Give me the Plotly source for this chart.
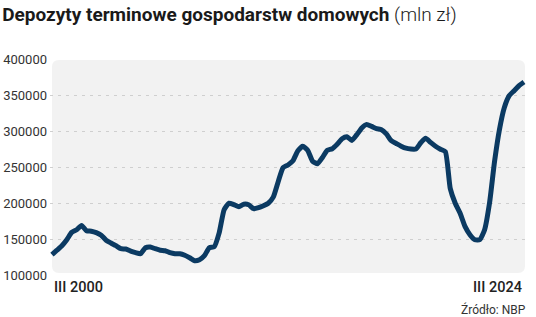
import pandas as pd
import plotly.graph_objects as go

# Quarterly observations, III 2000 .. III 2024 (mln zł)
quarters = pd.date_range("2000-03-01", "2024-03-01", freq="3MS")
deposits = [
    128200, 134400, 140700, 149000, 159200, 162900, 168900, 161500, 160800, 158800,
    155300, 148300, 144400, 140700, 136500, 136100, 133100, 131000, 129600, 137900,
    138900, 136500, 134400, 133700, 131000, 129600, 129600, 127500, 124000, 119900,
    121200, 126800, 137900, 139300, 158800, 190700, 199700, 197600, 194900, 198300,
    197600, 192100, 193500, 196200, 199700, 208100, 229600, 249000, 252800, 258700,
    272600, 278900, 273300, 258100, 254600, 263200, 273300, 275400, 281700, 289300,
    292100, 286900, 294900, 304200, 309200, 306400, 303200, 301800, 296000, 286500,
    282600, 278900, 276100, 275000, 275000, 283700, 290100, 284200, 278900, 274700,
    271300, 219900, 199700, 185800, 167500, 156000, 149000, 149000, 162900, 200400,
    257400, 301800, 332400, 349000, 356000, 362900, 368000,
]
y_ticks = [100000, 150000, 200000, 250000, 300000, 350000, 400000]
grid_ticks = [150000, 200000, 250000, 300000, 350000]
x_labels = ["III 2000", "III 2024"]
title_main = "Depozyty terminowe gospodarstw domowych"
title_unit = "(mln zł)"
source = "Źródło: NBP"

FONT = "Roboto"
fig = go.Figure()
fig.add_trace(go.Scatter(
    x=quarters, y=deposits, mode="lines",
    line=dict(color="#0b3a62", width=5, shape="spline", smoothing=0.5),
    hoverinfo="skip", showlegend=False,
))
# invisible trace on y2 for grid lines
fig.add_trace(go.Scatter(x=[quarters[0]], y=[grid_ticks[0]], yaxis="y2",
                         mode="markers", marker=dict(opacity=0),
                         hoverinfo="skip", showlegend=False))

# rounded background panel (plot area fractions)
x0, x1, y0, y1 = 0.0042, 0.9958, 0.0093, 0.9954
rx, ry = 0.0147, 0.0324
path = (f"M {x0+rx},{y0} L {x1-rx},{y0} Q {x1},{y0} {x1},{y0+ry} "
        f"L {x1},{y1-ry} Q {x1},{y1} {x1-rx},{y1} L {x0+rx},{y1} "
        f"Q {x0},{y1} {x0},{y1-ry} L {x0},{y0+ry} Q {x0},{y0} {x0+rx},{y0} Z")
fig.add_shape(type="path", path=path, xref="paper", yref="paper",
              fillcolor="#f2f2f2", line=dict(width=0), layer="below")

fig.update_layout(
    width=536, height=317,
    margin=dict(l=50, r=9, t=59, b=42, autoexpand=False),
    paper_bgcolor="white", plot_bgcolor="rgba(0,0,0,0)",
    font=dict(family=FONT, color="#333333"),
    title=dict(
        text=f"<b>{title_main}</b> <span style='font-weight:300'>{title_unit}</span>",
        font=dict(family=FONT, size=19, color="#1a1a1a"),
        xref="container", x=0.004, xanchor="left",
        yref="container", y=0.975, yanchor="top",
    ),
    xaxis=dict(
        type="date", automargin=False,
        range=["2000-01-24", "2024-04-26"],
        showgrid=False, zeroline=False, showline=False,
        showticklabels=False, ticks="",
    ),
    yaxis=dict(
        range=[100000, 400000], automargin=False,
        tickvals=y_ticks, ticktext=[str(v) for v in y_ticks],
        showgrid=False, zeroline=False, showline=False, ticks="",
        tickfont=dict(family=FONT, size=13, color="#333333"),
        ticklabelstandoff=2,
    ),
    yaxis2=dict(
        overlaying="y", range=[100000, 400000], automargin=False,
        tickvals=grid_ticks, showticklabels=False,
        showgrid=True, gridcolor="#cfcfcf", gridwidth=1, griddash="3px,5px",
        zeroline=False, showline=False, ticks="",
    ),
)

fig.add_annotation(text=x_labels[0], x=quarters[0], xref="x", xanchor="left",
                   y=-0.058, yref="paper", yanchor="middle", showarrow=False,
                   font=dict(family=FONT, size=14.5, color="#222222", weight=500))
fig.add_annotation(text=x_labels[1], x=quarters[-1], xref="x", xanchor="right",
                   y=-0.058, yref="paper", yanchor="middle", showarrow=False,
                   font=dict(family=FONT, size=14.5, color="#222222", weight=500))
fig.add_annotation(text=source, x=1.002, xref="paper", xanchor="right",
                   y=-0.162, yref="paper", yanchor="middle", showarrow=False,
                   font=dict(family=FONT, size=12, color="#333333"))

fig.write_html("out.html")
